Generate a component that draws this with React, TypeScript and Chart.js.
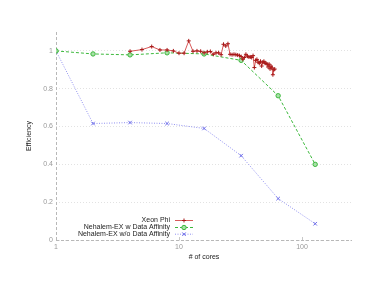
import React, { useEffect, useRef } from "react";
import { Chart, registerables } from "chart.js";

Chart.register(...registerables);

const phiCores = [4,5,6,7,8,9,10,11,12,13,14,15,16,17,18,19,20,21,22,23,24,25,26,27,28,29,30,31,32,33,34,35,36,37,38,39,40,41,42,43,44,45,46,47,48,49,50,51,52,53,54,55,56,57,58,59,60];
const phiEff = [0.998,1.007,1.023,1.005,1.005,1.0,0.988,0.988,1.053,0.998,1.0,0.998,0.99,0.995,0.997,0.982,0.99,0.99,0.98,1.035,1.026,1.038,0.982,0.98,0.982,0.98,0.978,0.975,0.97,0.956,0.965,0.982,0.972,0.968,0.968,0.965,0.975,0.912,0.95,0.955,0.94,0.935,0.945,0.92,0.94,0.945,0.935,0.935,0.93,0.915,0.93,0.905,0.92,0.91,0.874,0.9,0.904];
const nehCores = [1, 2, 4, 8, 16, 32, 64, 128];
const nehAffEff = [1.0, 0.984, 0.979, 0.99, 0.984, 0.95, 0.763, 0.4];
const nehNoAffEff = [1.0, 0.616, 0.621, 0.616, 0.59, 0.446, 0.219, 0.086];
const seriesLabels = ["Xeon Phi", "Nehalem-EX w Data Affinity", "Nehalem-EX w/o Data Affinity"];
const xTicks = [1, 10, 100];
const yTicks = [0, 0.2, 0.4, 0.6, 0.8, 1];
const xTitle = "# of cores";
const yTitle = "Efficiency";

const FONT = "'Liberation Sans', Arial, sans-serif";

const axesPlugin = {
  id: "dashedAxes",
  beforeDatasetsDraw(chart: any) {
    const { ctx, chartArea } = chart;
    const xs = chart.scales.x;
    ctx.save();
    ctx.strokeStyle = "#b8b8b8";
    ctx.lineWidth = 1;
    ctx.setLineDash([3, 2]);
    ctx.beginPath();
    ctx.moveTo(chartArea.left + 0.5, chartArea.top);
    ctx.lineTo(chartArea.left + 0.5, chartArea.bottom);
    ctx.moveTo(chartArea.left, chartArea.bottom + 0.5);
    ctx.lineTo(chartArea.right, chartArea.bottom + 0.5);
    ctx.stroke();
    ctx.setLineDash([]);
    ctx.strokeStyle = "#c8c8c8";
    ctx.beginPath();
    xTicks.slice(1).forEach((v) => {
      const px = Math.round(xs.getPixelForValue(v)) + 0.5;
      ctx.moveTo(px, chartArea.bottom);
      ctx.lineTo(px, chartArea.bottom - 3);
    });
    ctx.stroke();
    ctx.restore();
  },
};

const legendPlugin = {
  id: "customLegend",
  afterDraw(chart: any) {
    const ctx = chart.ctx;
    const rows = [220.5, 227.5, 234.2];
    const textRight = 170;
    const x0 = 175;
    const x1 = 193;
    ctx.save();
    ctx.font = `7px ${FONT}`;
    ctx.textAlign = "right";
    ctx.textBaseline = "middle";
    chart.data.datasets.forEach((ds: any, i: number) => {
      const y = rows[i];
      ctx.fillStyle = "#222";
      ctx.fillText(ds.label, textRight, y);
      ctx.strokeStyle = ds.borderColor;
      ctx.lineWidth = ds.borderWidth;
      ctx.setLineDash(ds.borderDash || []);
      ctx.beginPath();
      ctx.moveTo(x0, y);
      ctx.lineTo(x1, y);
      ctx.stroke();
      ctx.setLineDash([]);
      const xm = (x0 + x1) / 2;
      ctx.strokeStyle = ds.pointBorderColor;
      ctx.fillStyle = ds.pointBackgroundColor;
      ctx.lineWidth = 1;
      const r = ds.pointRadius;
      ctx.beginPath();
      if (ds.pointStyle === "cross") {
        ctx.moveTo(xm - r, y); ctx.lineTo(xm + r, y);
        ctx.moveTo(xm, y - r); ctx.lineTo(xm, y + r);
        ctx.stroke();
      } else if (ds.pointStyle === "crossRot") {
        ctx.moveTo(xm - r * 0.7, y - r * 0.7); ctx.lineTo(xm + r * 0.7, y + r * 0.7);
        ctx.moveTo(xm - r * 0.7, y + r * 0.7); ctx.lineTo(xm + r * 0.7, y - r * 0.7);
        ctx.stroke();
      } else {
        ctx.arc(xm, y, r, 0, Math.PI * 2);
        ctx.fill();
        ctx.stroke();
      }
    });
    ctx.restore();
  },
};

export default function App() {
  const ref = useRef<HTMLCanvasElement | null>(null);
  useEffect(() => {
    if (!ref.current) return;
    const chart = new Chart(ref.current, {
      type: "line",
      data: {
        datasets: [
          {
            label: seriesLabels[0],
            data: phiCores.map((c, i) => ({ x: c, y: phiEff[i] })),
            borderColor: "#d85a5a",
            borderWidth: 1,
            pointStyle: "cross",
            pointRadius: 2,
            pointBorderColor: "#a81818",
            pointBackgroundColor: "#a81818",
            pointBorderWidth: 1,
          },
          {
            label: seriesLabels[1],
            data: nehCores.map((c, i) => ({ x: c, y: nehAffEff[i] })),
            borderColor: "#3cb83c",
            borderWidth: 1,
            borderDash: [3, 2],
            pointStyle: "circle",
            pointRadius: 2.2,
            pointBorderColor: "#3cb83c",
            pointBackgroundColor: "#a8e0a8",
            pointBorderWidth: 1,
          },
          {
            label: seriesLabels[2],
            data: nehCores.map((c, i) => ({ x: c, y: nehNoAffEff[i] })),
            borderColor: "#9090f0",
            borderWidth: 1,
            borderDash: [1, 1.5],
            pointStyle: "crossRot",
            pointRadius: 2.5,
            pointBorderColor: "#6a6ae8",
            pointBackgroundColor: "#6a6ae8",
            pointBorderWidth: 1,
          },
        ],
      },
      options: {
        responsive: false,
        animation: false,
        layout: { padding: { top: 32, right: 22, left: 0, bottom: 0 } },
        plugins: { legend: { display: false }, tooltip: { enabled: false } },
        scales: {
          x: {
            type: "logarithmic",
            min: 1,
            max: 255,
            afterBuildTicks: (s: any) => {
              s.ticks = xTicks.map((v) => ({ value: v }));
            },
            afterFit: (s: any) => {
              s.height = 49;
            },
            ticks: {
              callback: (v: any) => String(v),
              font: { family: FONT, size: 7 },
              color: "#999",
              padding: 3,
              maxRotation: 0,
            },
            grid: { display: false, drawTicks: false },
            border: { display: false },
            title: {
              display: true,
              text: xTitle,
              font: { family: FONT, size: 7 },
              color: "#222",
              padding: { top: 0, bottom: 28 },
            },
          },
          y: {
            type: "linear",
            min: 0,
            max: 1.1,
            afterBuildTicks: (s: any) => {
              s.ticks = yTicks.map((v) => ({ value: v }));
            },
            afterFit: (s: any) => {
              s.width = 56;
            },
            ticks: {
              callback: (v: any) => String(Math.round(v * 10) / 10),
              font: { family: FONT, size: 7 },
              color: "#999",
              padding: 3,
            },
            grid: { color: "#e2e2e2", lineWidth: 1, drawTicks: false },
            border: { display: false, dash: [1, 2] },
            title: {
              display: true,
              text: yTitle,
              font: { family: FONT, size: 7 },
              color: "#222",
              padding: { top: 25, bottom: 0 },
            },
          },
        },
      },
      plugins: [axesPlugin, legendPlugin],
    } as any);
    return () => chart.destroy();
  }, []);
  return (
    <div style={{ position: "absolute", left: 0, top: 0, width: 374, height: 289, background: "#fff" }}>
      <canvas ref={ref} width={374} height={289} />
    </div>
  );
}
